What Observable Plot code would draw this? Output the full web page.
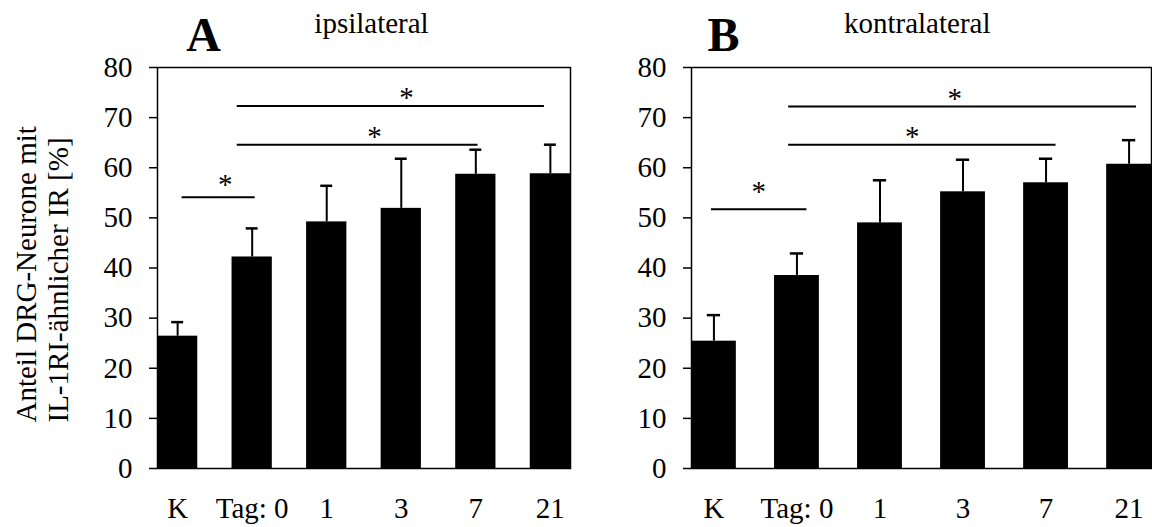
<!DOCTYPE html>
<html><head><meta charset="utf-8">
<script src="https://cdn.jsdelivr.net/npm/d3@7"></script>
<script src="https://cdn.jsdelivr.net/npm/@observablehq/plot@0.6"></script>
<style>
html,body{margin:0;padding:0;background:#fff;}
#wrap{display:flex;width:1152px;height:527px;overflow:hidden;}
#wrap svg{display:block;flex:none;}
</style></head><body><div id="wrap"></div>
<script>
// ---- data ----
const categories = ["K", "Tag: 0", "1", "3", "7", "21"];
const yTicks = [0, 10, 20, 30, 40, 50, 60, 70, 80];

const ipsiMean = [26.4, 42.2, 49.2, 51.9, 58.7, 58.8];
const ipsiErr  = [2.8, 5.7, 7.2, 9.9, 4.9, 5.8];
const kontraMean = [25.4, 38.5, 49.0, 55.2, 57.0, 60.7];
const kontraErr  = [5.2, 4.4, 8.5, 6.4, 4.8, 4.8];

// significance brackets: from / to (category index), line level, star position
const ipsiSig = [
  {from: 0.06, to: 1.04, y: 54.1, sx: 0.64, sy: 57.8},
  {from: 0.80, to: 4.03, y: 64.6, sx: 2.64, sy: 67.4},
  {from: 0.80, to: 4.92, y: 72.3, sx: 3.07, sy: 75.1}
];
const kontraSig = [
  {from: -0.03, to: 1.12, y: 51.7, sx: 0.54, sy: 56.5},
  {from: 0.90, to: 4.12, y: 64.6, sx: 2.39, sy: 67.3},
  {from: 0.90, to: 5.09, y: 72.2, sx: 2.90, sy: 74.9}
];

const yLabelText = "Anteil DRG-Neurone mit\nIL-1RI-ähnlicher IR [%]";

// ---- drawing ----
const FONT = "'Liberation Serif','Times New Roman',Times,serif";
const HW = 0.27;   // half bar width (category units)
const CAP = 0.08;  // half error-cap width
const H = 527, MT = 67, MB = 59;

function panel({mean, err, sig, letter, title, width, marginLeft, marginRight, letterX, titleX, yLabel}) {
  const rows = categories.map((c, i) => ({i, c, v: mean[i], top: mean[i] + err[i]}));
  const marks = [
    Plot.rectY(rows, {x1: d => d.i - HW, x2: d => d.i + HW, y: "v", fill: "black"}),
    Plot.ruleX(rows, {x: "i", y1: "v", y2: "top", stroke: "black", strokeWidth: 2}),
    Plot.ruleY(rows, {y: "top", x1: d => d.i - CAP, x2: d => d.i + CAP, stroke: "black", strokeWidth: 2.5}),
    Plot.ruleY(sig, {y: "y", x1: "from", x2: "to", stroke: "black", strokeWidth: 2}),
    Plot.text(sig, {x: "sx", y: "sy", text: () => "*", fontSize: 29, dy: 6, fill: "black"}),
    Plot.frame({stroke: "black", strokeWidth: 1.5}),
    Plot.axisY({ticks: yTicks, tickSize: 8, tickPadding: 17, label: null, fontSize: 29, strokeWidth: 1.5}),
    Plot.axisX({ticks: d3.range(categories.length), tickFormat: i => categories[i], tickSize: 0, tickPadding: 29, label: null, fontSize: 29}),
    Plot.text([letter], {frameAnchor: "top-left", text: d => d, dx: letterX - marginLeft, dy: 50 - MT,
      fontSize: 48, fontWeight: "bold", textAnchor: "middle", lineAnchor: "bottom", fill: "black"}),
    Plot.text([title], {frameAnchor: "top-left", text: d => d, dx: titleX - marginLeft, dy: 32 - MT,
      fontSize: 29, textAnchor: "middle", lineAnchor: "bottom", fill: "black"})
  ];
  if (yLabel) {
    marks.push(Plot.text([yLabel], {frameAnchor: "left", text: d => d, rotate: -90,
      textAnchor: "start", lineAnchor: "middle", lineHeight: 1.1, fontSize: 29,
      dx: 41 - marginLeft, dy: 422 - (MT + (H - MB)) / 2, fill: "black"}));
  }
  return Plot.plot({
    width, height: H,
    marginLeft, marginRight, marginTop: MT, marginBottom: MB,
    x: {type: "linear", domain: [-HW, categories.length - 1 + HW]},
    y: {domain: [0, 80]},
    style: {fontFamily: FONT, fontSize: "29px", background: "white", color: "black", overflow: "visible"},
    marks
  });
}

const wrap = document.getElementById("wrap");
wrap.append(panel({mean: ipsiMean, err: ipsiErr, sig: ipsiSig, letter: "A", title: "ipsilateral",
  width: 576, marginLeft: 157, marginRight: 6, letterX: 203, titleX: 371, yLabel: yLabelText}));
wrap.append(panel({mean: kontraMean, err: kontraErr, sig: kontraSig, letter: "B", title: "kontralateral",
  width: 576, marginLeft: 115, marginRight: 1, letterX: 147, titleX: 340.7}));
</script></body></html>
